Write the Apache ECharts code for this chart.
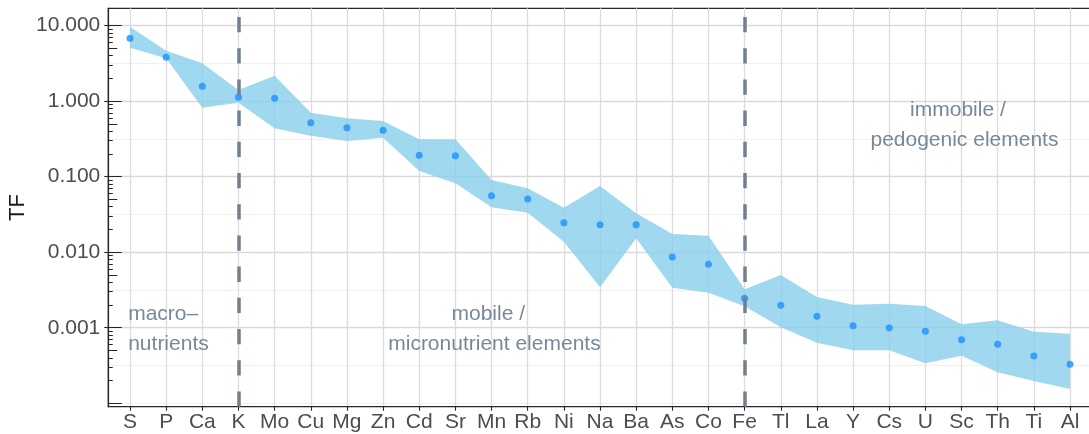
<!DOCTYPE html>
<html>
<head>
<meta charset="utf-8">
<script src="https://cdn.jsdelivr.net/npm/echarts@6/dist/echarts.min.js"></script>
<style>
  html, body { margin: 0; padding: 0; background: #ffffff; }
  #chart { width: 1089px; height: 434px; }
</style>
</head>
<body>
<div id="chart"></div>
<script>
// Transfer factors (TF) per element: median and spread band
const elements = ['S','P','Ca','K','Mo','Cu','Mg','Zn','Cd','Sr','Mn','Rb','Ni','Na','Ba','As','Co','Fe','Tl','La','Y','Cs','U','Sc','Th','Ti','Al'];
const tfMedian = [6.81, 3.815, 1.576, 1.126, 1.092, 0.519, 0.4457, 0.4117, 0.192, 0.1897, 0.056, 0.0507, 0.02458, 0.02313, 0.02313, 0.00864, 0.00694, 0.002459, 0.00198, 0.001416, 0.001063, 0.001, 0.000896, 0.000693, 0.000603, 0.000422, 0.000327];
const tfLower = [5.112, 3.70, 0.820, 0.955, 0.4377, 0.3492, 0.2971, 0.3286, 0.119, 0.0818, 0.0393, 0.0334, 0.01377, 0.003428, 0.01528, 0.003388, 0.002908, 0.001921, 0.001012, 0.000633, 0.000502, 0.000502, 0.0003377, 0.0004257, 0.0002566, 0.0001968, 0.0001542];
const tfUpper = [9.70, 4.665, 3.177, 1.407, 2.176, 0.704, 0.5937, 0.5467, 0.3129, 0.3129, 0.0904, 0.0702, 0.0389, 0.0753, 0.0327, 0.01742, 0.01654, 0.003236, 0.004989, 0.00255, 0.002016, 0.002078, 0.001938, 0.001109, 0.001253, 0.000885, 0.000833];

// Group boundaries (dashed vertical lines)
const boundaryElements = ['K', 'Fe'];

// Y axis range and tick values
const yMin = 0.0000899;
const yMax = 17.0;
const yLabelTicks = [0.001, 0.01, 0.1, 1, 10];
const yMinorGrid = [0.0001, 0.000316228, 0.00316228, 0.0316228, 0.316228, 3.16228];
const logTickDecades = [0.0001, 0.001, 0.01, 0.1, 1, 10];
const logTickMid = [0.0005, 0.005, 0.05, 0.5, 5];
const logTickShortMultipliers = [2, 3, 4, 6, 7, 8, 9];

// Group annotations
const annoText = ['macro\u2013', 'nutrients', 'mobile /', 'micronutrient elements', 'immobile /', 'pedogenic elements'];
const annoX = [-0.05, -0.05, 9.91, 10.08, 22.9, 23.08];
const annoY = [0.001519, 0.000599, 0.001519, 0.000599, 0.7647, 0.3062];
const annoAlign = ['left', 'left', 'center', 'center', 'center', 'center'];

const FONT = '"Liberation Sans", Arial, Helvetica, sans-serif';
const AXIS_TEXT = '#4d4d4d';
const ANNO_COLOR = '#778899';
const INK = '#262626';

const logTickShort = [];
logTickDecades.slice(0, 5).forEach(d => logTickShortMultipliers.forEach(m => logTickShort.push(+(m * d).toPrecision(6))));

const xIdx = elements.map((_, i) => i);

function logAxis(extra) {
  const base = {
    type: 'log',
    logBase: 10,
    min: yMin,
    max: yMax,
    gridIndex: 0,
    position: 'left',
    offset: 0,
    axisLabel: { show: false },
    splitLine: { show: false },
    axisTick: { show: false }
  };
  const out = Object.assign(base, extra);
  out.axisLine = Object.assign({ onZero: false, show: false }, extra.axisLine || {});
  return out;
}

const chart = echarts.init(document.getElementById('chart'), null, { renderer: 'canvas' });

const option = {
  animation: false,
  backgroundColor: '#ffffff',
  textStyle: { fontFamily: FONT },
  grid: {
    left: 108.3,
    right: -2.7,
    top: 8.3,
    bottom: 27.3,
    containLabel: false,
    outerBoundsMode: 'none',
    show: true,
    borderColor: INK,
    borderWidth: 1.3,
    backgroundColor: 'transparent'
  },
  xAxis: [{
    type: 'value',
    min: -0.6,
    max: 26.6,
    position: 'bottom',
    axisLine: { show: true, onZero: false, lineStyle: { color: INK, width: 1.2 } },
    axisTick: { show: true, customValues: xIdx, length: 4, lineStyle: { color: INK, width: 1.1 } },
    axisLabel: {
      customValues: xIdx,
      formatter: v => elements[Math.round(v)] || '',
      color: AXIS_TEXT,
      fontSize: 21,
      fontFamily: FONT,
      margin: 5
    },
    splitLine: { show: true, lineStyle: { color: '#dcdcdc', width: 1.3 } }
  }],
  yAxis: [
    // main axis: labels, outer ticks, major grid
    logAxis({
      name: 'TF',
      nameLocation: 'middle',
      nameGap: 79,
      nameMoveOverlap: false,
      nameTextStyle: { color: '#1a1a1a', fontSize: 22, fontFamily: FONT },
      axisLine: { show: true, lineStyle: { color: INK, width: 1.2 } },
      axisTick: { show: true, customValues: yLabelTicks, length: 4, lineStyle: { color: INK, width: 1.1 } },
      axisLabel: {
        show: true,
        customValues: yLabelTicks,
        formatter: v => Number(v).toFixed(3),
        color: AXIS_TEXT,
        fontSize: 21,
        fontFamily: FONT,
        margin: 8
      },
      splitLine: { show: true, lineStyle: { color: '#d9d9d9', width: 1.3 } }
    }),
    // minor grid lines
    logAxis({
      axisTick: { show: false, customValues: yMinorGrid },
      splitLine: { show: true, lineStyle: { color: '#ececec', width: 0.8 } }
    }),
    // log ticks: decades
    logAxis({
      axisTick: { show: true, inside: true, customValues: logTickDecades, length: 13.5, lineStyle: { color: INK, width: 1 } }
    }),
    // log ticks: fives
    logAxis({
      axisTick: { show: true, inside: true, customValues: logTickMid, length: 9, lineStyle: { color: INK, width: 1 } }
    }),
    // log ticks: other multiples
    logAxis({
      axisTick: { show: true, inside: true, customValues: logTickShort, length: 4.5, lineStyle: { color: INK, width: 1 } }
    })
  ],
  series: [
    {
      name: 'TF range',
      type: 'custom',
      z: 2,
      silent: true,
      data: xIdx.map(i => [i, tfLower[i], tfUpper[i]]),
      encode: { x: 0, y: [1, 2] },
      renderItem: function (params, api) {
        if (params.dataIndex !== 0) return null;
        const pts = [];
        for (let i = 0; i < elements.length; i++) pts.push(api.coord([i, tfUpper[i]]));
        for (let i = elements.length - 1; i >= 0; i--) pts.push(api.coord([i, tfLower[i]]));
        return {
          type: 'polygon',
          shape: { points: pts },
          style: { fill: 'rgba(135,206,235,0.8)', stroke: null }
        };
      }
    },
    {
      name: 'boundaries',
      type: 'line',
      z: 3,
      data: [],
      silent: true,
      markLine: {
        silent: true,
        symbol: ['none', 'none'],
        label: { show: false },
        lineStyle: { color: '#708090', width: 3.5, type: [15.3, 15.9], cap: 'butt' },
        data: boundaryElements.map(el => [
          { coord: [elements.indexOf(el), yMin] },
          { coord: [elements.indexOf(el), yMax] }
        ])
      }
    },
    {
      name: 'TF median',
      type: 'scatter',
      z: 4,
      symbol: 'circle',
      symbolSize: 7,
      itemStyle: { color: '#1E90FF' },
      data: xIdx.map(i => [i, tfMedian[i]])
    }
  ]
};

chart.setOption(option);

// Group annotations placed in data coordinates
chart.setOption({
  graphic: annoText.map((t, i) => {
    const p = chart.convertToPixel({ xAxisIndex: 0, yAxisIndex: 0 }, [annoX[i], annoY[i]]);
    return {
      type: 'text',
      x: p[0],
      y: p[1],
      z: 10,
      silent: true,
      style: {
        text: t,
        fill: ANNO_COLOR,
        font: '21px ' + FONT,
        align: annoAlign[i],
        verticalAlign: 'middle'
      }
    };
  })
});
</script>
</body>
</html>
